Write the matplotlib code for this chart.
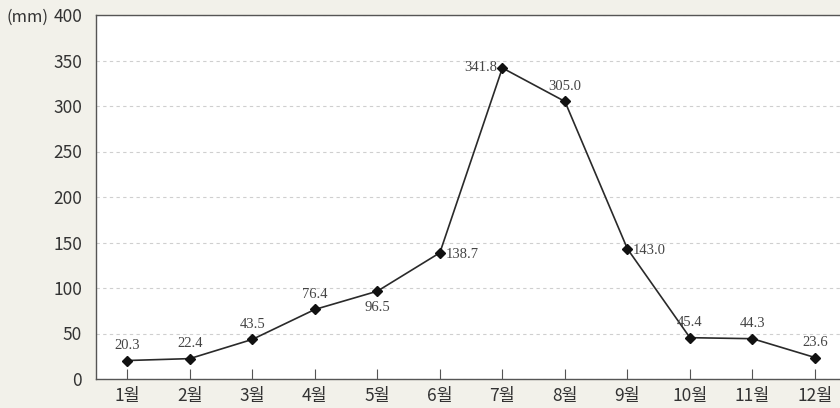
import matplotlib.pyplot as plt

plt.rcParams['font.family'] = ['Noto Sans CJK KR', 'DejaVu Sans']

months = ['1월', '2월', '3월', '4월', '5월', '6월',
          '7월', '8월', '9월', '10월', '11월', '12월']
rainfall = [20.3, 22.4, 43.5, 76.4, 96.5, 138.7,
            341.8, 305.0, 143.0, 45.4, 44.3, 23.6]
# where each value label sits relative to its point
label_pos = ['up', 'up', 'up', 'up', 'down', 'right',
             'left', 'up', 'right', 'up', 'up', 'up']

bg = '#f2f1ea'
fig = plt.figure(figsize=(8.4, 4.08), dpi=100, facecolor=bg)
ax = fig.add_axes([96 / 840, 29 / 408, 744 / 840, 364 / 408])
ax.set_facecolor('white')

x = list(range(1, len(months) + 1))
ax.plot(x, rainfall, color='#2a2a2a', lw=1.2, marker='D', ms=5.5,
        mfc='#111111', mec='#111111', zorder=3)

offsets = {'up': (0, 6, 'center', 'bottom'),
           'down': (0, -7, 'center', 'top'),
           'right': (4, -1, 'left', 'center'),
           'left': (-4, 0, 'right', 'center')}
for xi, v, pos in zip(x, rainfall, label_pos):
    dx, dy, ha, va = offsets[pos]
    ax.annotate(f'{v:.1f}', (xi, v), xytext=(dx, dy), textcoords='offset points',
                ha=ha, va=va, fontsize=10.5, family='Liberation Serif',
                color='#444444')

ax.set_xlim(0.5, 12.4)
ax.set_ylim(0, 400)
ax.set_yticks(range(0, 401, 50))
ax.set_xticks(x)
ax.set_xticklabels(months)
ax.grid(axis='y', color='#cfcfcf', ls=(0, (3, 3)), lw=0.8)
ax.set_axisbelow(True)

ax.tick_params(axis='x', direction='in', length=7, color='#555555',
               labelsize=12.5, labelcolor='#333333', pad=6)
ax.tick_params(axis='y', length=0, labelsize=12.5, labelcolor='#333333', pad=10)
ax.spines['right'].set_visible(False)
for s in ['left', 'bottom', 'top']:
    ax.spines[s].set_color('#555555')
    ax.spines[s].set_linewidth(1.0)

fig.text(6 / 840, 1 - 17 / 408, '(mm)', fontsize=12, color='#333333',
         va='center', ha='left')

fig.savefig('out.png', dpi=100, facecolor=bg)
